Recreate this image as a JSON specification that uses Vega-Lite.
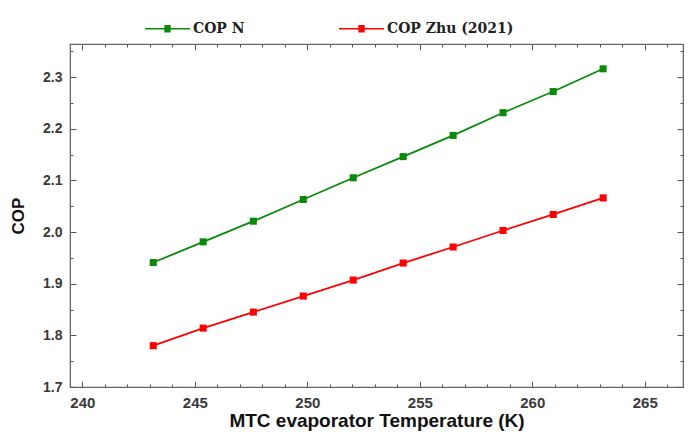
{
  "$schema": "https://vega.github.io/schema/vega-lite/v6.json",
  "width": 613,
  "height": 343,
  "autosize": {"type": "none"},
  "padding": {"left": 70, "top": 44, "right": 6, "bottom": 45},
  "background": "white",
  "config": {
    "view": {"stroke": "#666666", "strokeWidth": 1.2},
    "axis": {
      "domainColor": "#666666",
      "tickColor": "#555555",
      "grid": false,
      "labelFont": "Liberation Sans",
      "labelFontWeight": "bold",
      "labelFontSize": 14,
      "labelColor": "#3a3a3a",
      "titleFont": "Liberation Sans",
      "titleFontWeight": "bold",
      "titleFontSize": 18,
      "titleColor": "#111111"
    }
  },
  "data": {
    "values": [
      {"T": 243.15, "COP": 1.941, "series": "COP N"},
      {"T": 245.37, "COP": 1.981, "series": "COP N"},
      {"T": 247.6, "COP": 2.021, "series": "COP N"},
      {"T": 249.82, "COP": 2.063, "series": "COP N"},
      {"T": 252.04, "COP": 2.105, "series": "COP N"},
      {"T": 254.26, "COP": 2.146, "series": "COP N"},
      {"T": 256.48, "COP": 2.187, "series": "COP N"},
      {"T": 258.7, "COP": 2.231, "series": "COP N"},
      {"T": 260.93, "COP": 2.272, "series": "COP N"},
      {"T": 263.15, "COP": 2.316, "series": "COP N"},
      {"T": 243.15, "COP": 1.780, "series": "COP Zhu (2021)"},
      {"T": 245.37, "COP": 1.814, "series": "COP Zhu (2021)"},
      {"T": 247.6, "COP": 1.845, "series": "COP Zhu (2021)"},
      {"T": 249.82, "COP": 1.876, "series": "COP Zhu (2021)"},
      {"T": 252.04, "COP": 1.907, "series": "COP Zhu (2021)"},
      {"T": 254.26, "COP": 1.940, "series": "COP Zhu (2021)"},
      {"T": 256.48, "COP": 1.971, "series": "COP Zhu (2021)"},
      {"T": 258.7, "COP": 2.003, "series": "COP Zhu (2021)"},
      {"T": 260.93, "COP": 2.034, "series": "COP Zhu (2021)"},
      {"T": 263.15, "COP": 2.066, "series": "COP Zhu (2021)"}
    ]
  },
  "resolve": {"axis": {"x": "independent", "y": "independent"}},
  "layer": [
    {
      "mark": {"type": "line", "strokeWidth": 1.8},
      "encoding": {
        "x": {
          "field": "T", "type": "quantitative",
          "scale": {"domain": [239.45, 266.7], "nice": false, "zero": false},
          "axis": {
            "orient": "bottom",
            "title": "MTC evaporator Temperature (K)",
            "titleFontSize": 19,
            "labelFontSize": 15,
            "values": [240,241,242,243,244,245,246,247,248,249,250,251,252,253,254,255,256,257,258,259,260,261,262,263,264,265,266],
            "labelExpr": "datum.value % 5 == 0 ? format(datum.value, 'd') : ''",
            "tickSize": {"condition": {"test": "datum.value % 5 == 0", "value": -6}, "value": -3},
            "labelPadding": 14,
            "titlePadding": 1
          }
        },
        "y": {
          "field": "COP", "type": "quantitative",
          "scale": {"domain": [1.7, 2.364], "nice": false, "zero": false},
          "axis": {
            "orient": "left",
            "title": "COP",
            "titleFontSize": 17,
            "values": [1.7,1.75,1.8,1.85,1.9,1.95,2.0,2.05,2.1,2.15,2.2,2.25,2.3,2.35],
            "labelExpr": "round(datum.value*100) % 10 == 0 ? format(datum.value, '.1f') : ''",
            "tickSize": {"condition": {"test": "round(datum.value*100) % 10 == 0", "value": -6}, "value": -3},
            "labelPadding": 14,
            "titlePadding": 15
          }
        },
        "color": {
          "field": "series", "type": "nominal",
          "scale": {"domain": ["COP N", "COP Zhu (2021)"], "range": ["#0a8a0a", "#ff0000"]},
          "legend": {
            "title": null,
            "orient": "none",
            "legendX": 74,
            "legendY": -39,
            "direction": "horizontal",
            "symbolType": "M-1,0H1M-0.14,-0.133H0.14M-0.14,-0.089H0.14M-0.14,-0.044H0.14M-0.14,0.044H0.14M-0.14,0.089H0.14M-0.14,0.133H0.14",
            "symbolSize": 2025,
            "symbolStrokeWidth": 1.6,
            "labelFont": "DejaVu Serif",
            "labelFontWeight": "bold",
            "labelFontSize": 14,
            "labelColor": "#222222",
            "labelOffset": 2,
            "columnPadding": 90,
            "padding": 0
          }
        }
      }
    },
    {
      "mark": {"type": "point", "shape": "square", "filled": true, "size": 50, "opacity": 1},
      "encoding": {
        "x": {"field": "T", "type": "quantitative", "axis": null},
        "y": {"field": "COP", "type": "quantitative", "axis": null},
        "fill": {
          "field": "series", "type": "nominal",
          "scale": {"domain": ["COP N", "COP Zhu (2021)"], "range": ["#0a8a0a", "#ff0000"]},
          "legend": null
        }
      }
    },
    {
      "mark": {"type": "point", "opacity": 0},
      "encoding": {
        "x": {
          "field": "T", "type": "quantitative",
          "axis": {
            "orient": "top",
            "title": null,
            "labels": false,
            "values": [240,241,242,243,244,245,246,247,248,249,250,251,252,253,254,255,256,257,258,259,260,261,262,263,264,265,266],
            "tickSize": {"condition": {"test": "datum.value % 5 == 0", "value": -6}, "value": -3}
          }
        },
        "y": {
          "field": "COP", "type": "quantitative",
          "axis": {
            "orient": "right",
            "title": null,
            "labels": false,
            "values": [1.7,1.75,1.8,1.85,1.9,1.95,2.0,2.05,2.1,2.15,2.2,2.25,2.3,2.35],
            "tickSize": {"condition": {"test": "round(datum.value*100) % 10 == 0", "value": -6}, "value": -3}
          }
        }
      }
    }
  ]
}
